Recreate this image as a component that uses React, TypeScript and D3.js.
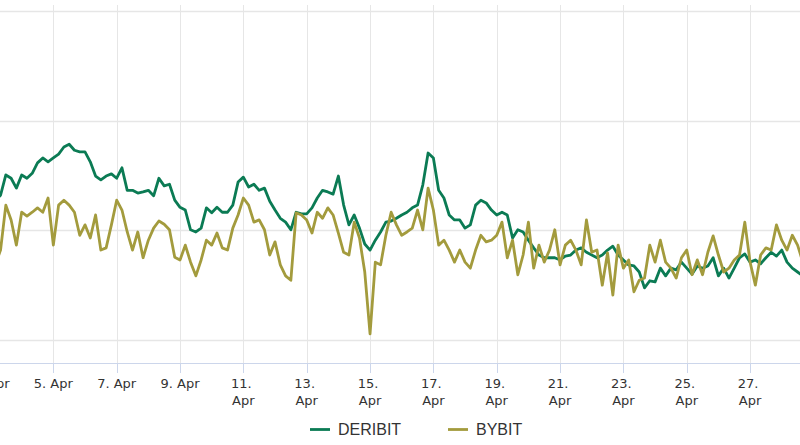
import React from "react";
import * as d3 from "d3";

// 4-hourly samples starting 3 Apr 04:00 UTC
const START_UTC = Date.UTC(2024, 3, 3, 4, 0, 0);
const STEP_HOURS = 4;

const DERIBIT = [
  65.5, 66.4, 70.1, 69.5, 67.7, 70.1, 69.5, 70.4, 72.3, 73.2, 72.5, 73.2, 73.9, 75.2, 75.7, 74.6, 74.3, 74.3, 72.5, 69.9,
  69.2, 69.9, 70.3, 69.5, 71.4, 67.3, 67.3, 66.8, 67.0, 67.3, 66.3, 69.5, 68.1, 68.4, 65.5, 64.2, 63.7, 60.1, 59.7, 60.4,
  64.1, 63.2, 64.2, 63.3, 63.3, 64.6, 68.8, 69.7, 67.9, 68.4, 67.3, 67.7, 65.3, 63.7, 62.2, 61.5, 60.1, 63.3, 63.0, 63.0,
  64.1, 65.9, 67.3, 67.0, 66.6, 69.9, 64.6, 61.0, 62.8, 60.4, 57.5, 56.4, 58.2, 59.7, 61.5, 61.7, 62.2, 62.8, 63.3, 64.1,
  64.6, 68.3, 74.1, 73.2, 67.3, 65.9, 62.8, 61.9, 61.9, 60.4, 61.0, 64.6, 65.5, 65.0, 63.7, 62.8, 63.3, 62.8, 58.6, 60.1,
  59.7, 58.2, 56.8, 55.5, 55.0, 55.0, 55.0, 54.6, 55.3, 55.5, 56.4, 56.8, 56.0, 55.5, 55.0, 55.5, 56.4, 57.1, 55.5, 54.6,
  53.7, 53.5, 52.4, 49.5, 50.8, 50.6, 53.1, 51.7, 53.1, 52.8, 54.2, 53.1, 52.0, 53.5, 53.1, 53.5, 55.0, 51.7, 53.1, 51.3,
  53.1, 55.0, 55.7, 54.2, 54.6, 53.9, 55.0, 56.0, 55.3, 56.4, 54.2, 53.1, 52.4, 51.7,
];

const BYBIT = [
  53.7, 56.4, 64.6, 61.9, 57.3, 63.3, 62.6, 63.3, 64.1, 63.3, 65.9, 57.3, 64.6, 65.5, 64.6, 63.3, 59.1, 61.0, 58.6, 62.8,
  56.4, 56.8, 61.0, 65.5, 63.7, 59.7, 56.4, 59.7, 55.0, 58.2, 60.4, 61.7, 61.1, 60.1, 55.1, 54.6, 57.3, 54.2, 51.7, 54.6,
  58.2, 57.3, 59.5, 56.8, 56.4, 60.4, 62.8, 65.9, 64.6, 61.5, 61.9, 60.1, 55.5, 57.9, 53.7, 51.7, 50.9, 63.2, 62.8, 61.9,
  59.5, 63.3, 62.2, 64.1, 62.8, 59.5, 56.0, 55.5, 61.5, 58.6, 52.4, 41.1, 54.2, 53.7, 59.1, 63.3, 61.0, 59.1, 59.7, 60.4,
  63.7, 60.1, 67.7, 63.7, 57.3, 58.2, 56.4, 54.2, 56.4, 54.2, 53.1, 56.4, 59.1, 57.9, 58.2, 59.1, 61.5, 55.0, 58.2, 51.9,
  55.5, 61.5, 53.1, 57.3, 54.2, 56.4, 60.1, 53.7, 57.3, 58.2, 56.4, 53.7, 61.9, 56.0, 56.4, 50.0, 55.9, 48.2, 57.3, 53.1,
  54.6, 48.8, 50.9, 51.3, 57.3, 54.2, 58.2, 54.2, 53.1, 51.3, 55.0, 56.4, 51.9, 54.6, 51.9, 56.0, 59.0, 55.5, 52.4, 53.1,
  54.6, 55.5, 61.5, 54.2, 50.0, 55.5, 56.8, 56.4, 61.0, 58.2, 56.4, 59.1, 57.3, 54.2,
];

const Y_GRID = [40, 60, 80, 100];
const TICK_DAYS = [3, 5, 7, 9, 11, 13, 15, 17, 19, 21, 23, 25, 27];
const MONTH_LABEL = "Apr";
const SERIES_NAMES = ["DERIBIT", "BYBIT"];
const SERIES_COLORS = ["#0b7b54", "#a39b3d"];

const W = 800;
const H = 445;
const PLOT_TOP = 5;
const PLOT_BOTTOM = 363;

export default function App() {
  const x = d3
    .scaleUtc()
    .domain([new Date(Date.UTC(2024, 3, 3)), new Date(Date.UTC(2024, 3, 28))])
    .range([-10, -10 + 31.67 * 25]);
  const y = d3.scaleLinear().domain([40, 100]).range([340, 11]);

  const times = DERIBIT.map((_, i) => new Date(START_UTC + i * STEP_HOURS * 3600 * 1000));
  const line = d3
    .line<number>()
    .x((_, i) => x(times[i]))
    .y((v) => y(v));

  const series = [DERIBIT, BYBIT];
  const axisFont = "'DejaVu Sans', Verdana, sans-serif";
  const legendFont = "'Liberation Sans', Arial, sans-serif";

  return (
    <svg
      width={W}
      height={H}
      style={{ position: "absolute", left: 0, top: 0, background: "#fff" }}
    >
      <defs>
        <clipPath id="plot">
          <rect x={0} y={PLOT_TOP - 5} width={W} height={PLOT_BOTTOM - PLOT_TOP + 10} />
        </clipPath>
      </defs>
      {/* vertical grid lines */}
      {TICK_DAYS.map((d) => {
        const xx = Math.round(x(new Date(Date.UTC(2024, 3, d)))) + 0.5;
        return (
          <g key={"vg" + d}>
            <line x1={xx} x2={xx} y1={PLOT_TOP} y2={PLOT_BOTTOM} stroke="#e6e6e6" strokeWidth={1} />
            <line x1={xx} x2={xx} y1={PLOT_BOTTOM} y2={PLOT_BOTTOM + 10} stroke="#ccd6eb" strokeWidth={1} />
          </g>
        );
      })}
      {/* horizontal grid lines */}
      {Y_GRID.map((v) => {
        const yy = Math.round(y(v)) + 0.5;
        return <line key={"hg" + v} x1={0} x2={W} y1={yy} y2={yy} stroke="#e6e6e6" strokeWidth={1.5} />;
      })}
      {/* x axis line */}
      <line x1={0} x2={W} y1={PLOT_BOTTOM + 0.5} y2={PLOT_BOTTOM + 0.5} stroke="#ccd6eb" strokeWidth={1} />

      {/* series */}
      <g clipPath="url(#plot)">
        {series.map((s, k) => (
          <path
            key={SERIES_NAMES[k]}
            d={line(s) || ""}
            fill="none"
            stroke={SERIES_COLORS[k]}
            strokeWidth={2.8}
            strokeLinejoin="round"
            strokeLinecap="round"
          />
        ))}
      </g>

      {/* x tick labels */}
      {TICK_DAYS.map((d) => {
        const xx = x(new Date(Date.UTC(2024, 3, d)));
        const twoLine = d >= 10;
        return (
          <text
            key={"xl" + d}
            x={xx}
            y={388}
            textAnchor="middle"
            fontFamily={axisFont}
            fontSize={13}
            fill="#333"
          >
            {twoLine ? (
              <>
                <tspan x={xx} dx={-2}>{`${d}.`}</tspan>
                <tspan x={xx} dy={17}>{MONTH_LABEL}</tspan>
              </>
            ) : (
              `${d}. ${MONTH_LABEL}`
            )}
          </text>
        );
      })}

      {/* legend */}
      {SERIES_NAMES.map((name, k) => {
        const lx = k === 0 ? 310 : 448;
        return (
          <g key={"lg" + name}>
            <line x1={lx} x2={lx + 20} y1={429.5} y2={429.5} stroke={SERIES_COLORS[k]} strokeWidth={2.8} />
            <text x={lx + 28} y={435} fontFamily={legendFont} fontSize={16} fill="#333">
              {name}
            </text>
          </g>
        );
      })}
    </svg>
  );
}
